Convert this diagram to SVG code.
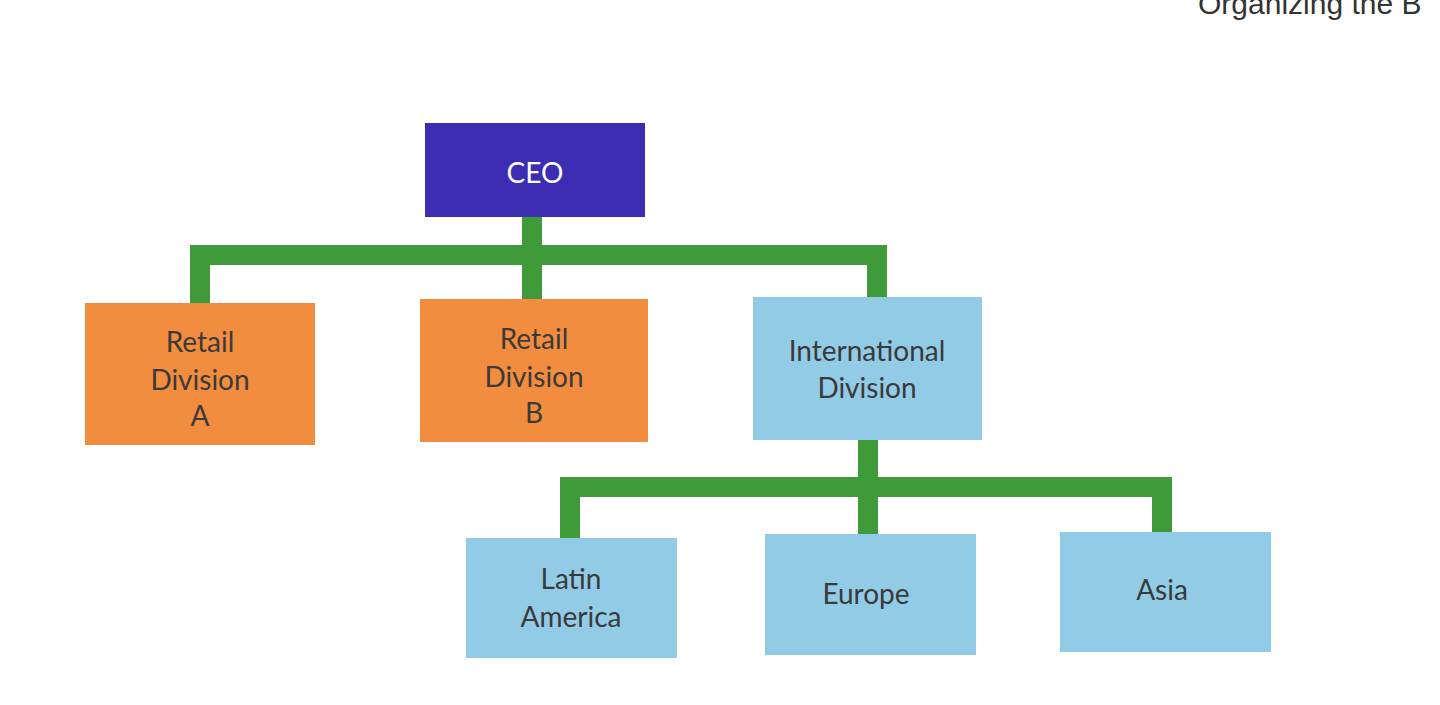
<svg xmlns="http://www.w3.org/2000/svg" width="1440" height="705" viewBox="0 0 1440 705">
<style>
.c{stroke:#3f9a3a;stroke-width:20;fill:none;stroke-linejoin:miter}
.o{fill:#f28c3e}
.b{fill:#92cbe6}
.t{font-family:"Lato","Liberation Sans",sans-serif;font-size:28px;fill:#3a3a3a;text-anchor:middle}
</style>
<rect width="1440" height="705" fill="#ffffff"/>
<text x="1198" y="14" font-family="Liberation Sans,sans-serif" font-size="30" fill="#333">Organizing the B</text>
<g id="connectors">
<path class="c" d="M532 217 V255 M200 303 V255 H877 V297 M532 255 V299"/>
<path class="c" d="M868 440 V487 M570 538 V487 H1162 V532 M868 487 V534"/>
</g>
<g id="ceo"><rect x="425" y="123" width="220" height="94" fill="#3d2db3"/><text class="t" x="535" y="183" style="fill:#fff">CEO</text></g>
<g id="retailA"><rect class="o" x="85" y="303" width="230" height="142"/><text class="t" x="200" y="352">Retail</text><text class="t" x="200" y="390">Division</text><text class="t" x="200" y="426">A</text></g>
<g id="retailB"><rect class="o" x="420" y="299" width="228" height="143"/><text class="t" x="534" y="349">Retail</text><text class="t" x="534" y="387">Division</text><text class="t" x="534" y="423">B</text></g>
<g id="intl"><rect class="b" x="753" y="297" width="229" height="143"/><text class="t" x="867" y="361">International</text><text class="t" x="867" y="398">Division</text></g>
<g id="latam"><rect class="b" x="466" y="538" width="211" height="120"/><text class="t" x="571" y="589">Latin</text><text class="t" x="571" y="627">America</text></g>
<g id="europe"><rect class="b" x="765" y="534" width="211" height="121"/><text class="t" x="866" y="604">Europe</text></g>
<g id="asia"><rect class="b" x="1060" y="532" width="211" height="120"/><text class="t" x="1162" y="600">Asia</text></g>
</svg>
